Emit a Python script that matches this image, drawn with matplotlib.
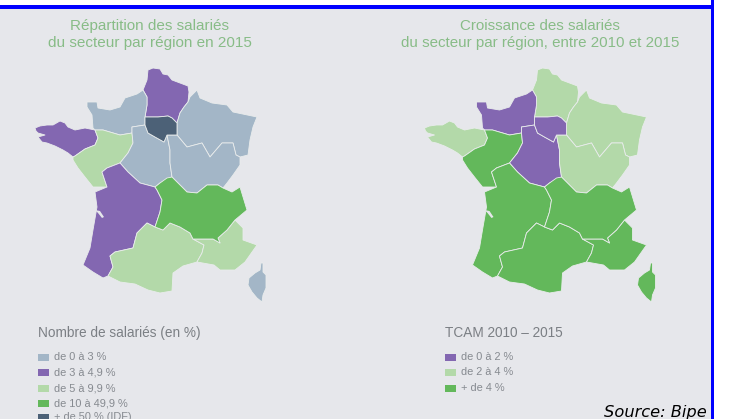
import matplotlib
matplotlib.use("Agg")
import matplotlib.pyplot as plt
from matplotlib.patches import Polygon, Rectangle
from matplotlib.transforms import Affine2D

plt.rcParams['font.family'] = ['Liberation Sans', 'DejaVu Sans']

# region outlines, traced in pixels of the left map
hauts_de_france = [(148, 70), (153, 68), (160, 69), (163, 74), (168, 75), (172, 80), (180, 83), (188, 86), (189, 92),
                   (188, 102), (184, 107), (180, 113), (177, 123), (172, 118), (168, 116), (158, 117), (145, 117),
                   (147, 105), (147, 97), (143, 90), (147, 80)]
ile_de_france = [(145, 117), (158, 117), (168, 116), (172, 118), (177, 123), (177, 135), (167, 135), (164, 142),
                 (155, 137), (148, 133), (145, 125)]
normandie = [(87, 102), (97, 102), (98, 108), (110, 110), (120, 107), (125, 98), (137, 94), (143, 90), (147, 97),
             (147, 105), (145, 117), (145, 125), (132, 127), (132, 133), (120, 135), (103, 130), (95, 130), (93, 128),
             (92, 115), (87, 107)]
bretagne = [(35, 128), (40, 126), (47, 125), (53, 125), (60, 121), (65, 123), (68, 127), (75, 130), (85, 128), (95, 130),
            (98, 138), (95, 145), (85, 149), (75, 156), (73, 157), (68, 153), (63, 150), (55, 146), (47, 143), (42, 142),
            (38, 137), (45, 135), (38, 133), (36, 131)]
pays_de_la_loire = [(95, 130), (103, 130), (120, 135), (132, 133), (133, 143), (128, 153), (120, 163), (107, 168),
                    (102, 172), (107, 187), (93, 187), (85, 177), (78, 168), (73, 160), (73, 157), (75, 156), (85, 149),
                    (95, 145), (98, 138)]
centre = [(132, 127), (145, 125), (148, 133), (155, 137), (164, 142), (167, 135), (170, 150), (170, 163), (172, 177),
          (160, 183), (155, 187), (140, 183), (128, 172), (120, 163), (128, 153), (133, 143), (132, 133)]
grand_est = [(188, 102), (190, 97), (197, 90), (200, 98), (212, 103), (227, 105), (233, 112), (257, 117), (253, 127),
             (250, 140), (248, 155), (240, 157), (236, 155), (233, 143), (222, 143), (210, 157), (202, 143), (187, 147),
             (177, 135), (177, 123), (180, 113), (184, 107)]
bourgogne = [(167, 135), (177, 135), (187, 147), (202, 143), (210, 157), (222, 143), (233, 143), (236, 155), (240, 157),
             (240, 165), (233, 175), (227, 183), (223, 188), (218, 185), (207, 185), (197, 193), (187, 192), (177, 182),
             (172, 177), (170, 163), (170, 150)]
aquitaine = [(102, 172), (107, 168), (120, 163), (128, 172), (140, 183), (155, 187), (157, 190), (162, 200), (160, 212),
             (155, 227), (147, 223), (137, 233), (133, 248), (115, 252), (110, 256), (113, 267), (108, 276), (103, 278),
             (93, 272), (83, 265), (90, 248), (93, 230), (97, 207), (95, 192), (107, 187)]
auvergne = [(177, 182), (172, 177), (167, 178), (160, 183), (155, 187), (157, 190), (162, 200), (160, 212), (155, 227),
            (163, 230), (170, 223), (180, 227), (190, 233), (193, 239), (213, 239), (220, 243), (218, 238), (227, 230),
            (235, 220), (247, 210), (240, 187), (232, 192), (223, 188), (218, 185), (207, 185), (197, 193), (187, 192)]
occitanie = [(108, 276), (113, 267), (110, 256), (115, 252), (133, 248), (137, 233), (147, 223), (155, 227), (163, 230),
             (170, 223), (180, 227), (190, 233), (193, 239), (204, 245), (202, 253), (197, 262), (183, 266), (173, 273),
             (172, 291), (160, 293), (148, 290), (135, 284), (120, 282)]
paca = [(193, 239), (213, 239), (220, 243), (218, 238), (227, 230), (235, 220), (243, 228), (243, 240), (257, 245),
        (245, 262), (235, 270), (220, 270), (214, 265), (197, 262), (202, 253), (204, 245)]
corse = [(261, 263), (263, 263), (263, 272), (266, 275), (266, 288), (263, 295), (262, 302), (257, 298), (252, 292),
         (248, 285), (249, 278), (255, 273), (260, 270)]
gironde = [(95, 210), (100, 211), (104, 217), (102, 218), (98, 213)]

regions = [hauts_de_france, normandie, bretagne, pays_de_la_loire, centre, grand_est, bourgogne, aquitaine,
           occitanie, paca, auvergne, ile_de_france, corse]

# legend class of each region, same order as regions
salaries_class = ["b", "a", "b", "c", "a", "a", "a", "b", "c", "c", "d", "e", "a"]
croissance_class = ["c", "b", "c", "d", "b", "c", "c", "d", "d", "d", "d", "b", "d"]

class_colors = {"a": "#a3b6c7", "b": "#8367b1", "c": "#b3d9a9", "d": "#63b85b", "e": "#4c6177"}

left_title = "Répartition des salariés\ndu secteur par région en 2015"
right_title = "Croissance des salariés\ndu secteur par région, entre 2010 et 2015"
left_legend_title = "Nombre de salariés (en %)"
right_legend_title = "TCAM 2010 – 2015"
left_labels = ["de 0 à 3 %", "de 3 à 4,9 %", "de 5 à 9,9 %", "de 10 à 49,9 %", "+ de 50 % (IDF)"]
left_keys = ["a", "b", "c", "d", "e"]
right_labels = ["de 0 à 2 %", "de 2 à 4 %", "+ de 4 %"]
right_keys = ["b", "c", "d"]

BG = "#e6e7eb"
BLUE = "#0000ff"
TITLE = "#88bc87"
GREY = "#868a90"
MAP_SHIFT = 389.5


def draw_map(ax, classes, shift):
    trans = Affine2D().translate(shift, 0) + ax.transData
    for outline, key in zip(regions, classes):
        ax.add_patch(Polygon(outline, closed=True, facecolor=class_colors[key], edgecolor="#e9ecec",
                             linewidth=0.6, joinstyle="round", transform=trans))
    ax.add_patch(Polygon(gironde, closed=True, facecolor=BG, edgecolor="none", transform=trans))


def draw_legend(ax, x, title, labels, keys):
    ax.text(x, 333, title, fontsize=9.8, color="#7b7f84", va="center", ha="left")
    rows = [357, 372, 388, 403, 417]
    for row, label, key in zip(rows, labels, keys):
        ax.add_patch(Rectangle((x, row - 3.5), 11, 7, facecolor=class_colors[key], edgecolor="none"))
        ax.text(x + 16, row, label, fontsize=7.9, color=GREY, va="center", ha="left")


fig = plt.figure(figsize=(7.29, 4.19), dpi=100, facecolor="white")
ax = fig.add_axes([0, 0, 1, 1])
ax.set_xlim(0, 729)
ax.set_ylim(419, 0)
ax.axis("off")

ax.add_patch(Rectangle((0, 9), 711, 410, facecolor=BG, edgecolor="none"))
ax.add_patch(Rectangle((0, 5), 714, 4, facecolor=BLUE, edgecolor="none"))
ax.add_patch(Rectangle((711, 0), 3, 419, facecolor=BLUE, edgecolor="none"))

draw_map(ax, salaries_class, 0)
draw_map(ax, croissance_class, MAP_SHIFT)

ax.text(150, 34.5, left_title, fontsize=11, color=TITLE, ha="center", va="center", linespacing=1.35)
ax.text(540, 34.5, right_title, fontsize=10.9, color=TITLE, ha="center", va="center", linespacing=1.35)

draw_legend(ax, 38, left_legend_title, left_labels, left_keys)
draw_legend(ax, 445, right_legend_title, right_labels, right_keys)

ax.text(707, 417, "Source: Bipe", fontsize=11.7, style="italic", family="DejaVu Sans", color="black",
        ha="right", va="baseline")

fig.savefig("out.png", dpi=100)
